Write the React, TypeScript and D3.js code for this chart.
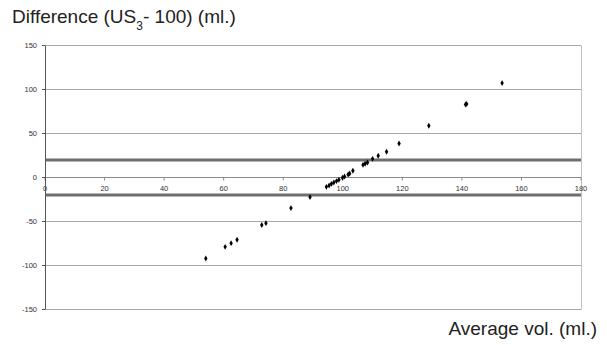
import React from "react";
import * as d3 from "d3";

const avgVol = [54.0, 60.5, 62.5, 64.5, 72.8, 74.2, 82.6, 89.0, 94.5, 95.4, 96.2, 97.0, 97.9, 98.7, 99.9, 100.6, 101.8, 102.3, 103.4, 106.8, 107.5, 108.3, 110.0, 111.9, 114.7, 118.9, 128.9, 141.2, 141.6, 153.5];
const diff = [-92, -78.8, -74.6, -70.8, -54, -51.9, -34.8, -22.3, -10.6, -9.1, -7.2, -5.7, -4.1, -2.6, -0.3, 1.1, 3.4, 4.5, 7.6, 14.4, 15.6, 17, 21.2, 24.7, 29.2, 38.6, 58.8, 83.0, 83.6, 107.3];
const xTicks = [0, 20, 40, 60, 80, 100, 120, 140, 160, 180];
const yTicks = [150, 100, 50, 0, -50, -100, -150];
const limits = [20, -20];

export default function App() {
  const W = 607, H = 345;
  const x = d3.scaleLinear().domain([0, 180]).range([45, 581]);
  const y = d3.scaleLinear().domain([-150, 150]).range([309.5, 45.5]);
  const font = "Arial, 'Liberation Sans', sans-serif";
  const diamond = d3.symbol().type(d3.symbolDiamond).size(10)();
  return (
    <svg width={W} height={H} style={{ position: "absolute", left: 0, top: 0, background: "#fff" }}>
      {/* gridlines */}
      {yTicks.filter(t => t !== 0).map(t => (
        <line key={"g" + t} x1={x(0)} x2={x(180)} y1={y(t)} y2={y(t)} stroke="#a8a8a8" strokeWidth={1} />
      ))}
      {/* right border */}
      <line x1={x(180) + 0.5} x2={x(180) + 0.5} y1={y(150)} y2={y(-150)} stroke="#c0c0c0" strokeWidth={1} />
      {/* limit lines */}
      {limits.map(l => (
        <line key={"l" + l} x1={x(0)} x2={x(180)} y1={y(l)} y2={y(l)} stroke="#6e6e6e" strokeWidth={3} />
      ))}
      {/* x axis at 0 */}
      <line x1={x(0)} x2={x(180)} y1={y(0)} y2={y(0)} stroke="#8a8a8a" strokeWidth={1} />
      {xTicks.map(t => (
        <g key={"xt" + t}>
          <line x1={x(t)} x2={x(t)} y1={y(0)} y2={y(0) + 3} stroke="#8a8a8a" />
          <text x={x(t)} y={y(0) + 13} fontSize={7.5} fontFamily={font} fill="#333" textAnchor="middle">{t}</text>
        </g>
      ))}
      {/* y axis */}
      <line x1={x(0) + 0.5} x2={x(0) + 0.5} y1={y(150)} y2={y(-150)} stroke="#555" strokeWidth={1} />
      {yTicks.map(t => (
        <g key={"yt" + t}>
          <line x1={x(0) - 3} x2={x(0)} y1={y(t)} y2={y(t)} stroke="#555" />
          <text x={x(0) - 8} y={y(t) + 2.5} fontSize={7.5} fontFamily={font} fill="#333" textAnchor="end">{t}</text>
        </g>
      ))}
      {/* points */}
      {avgVol.map((v, i) => (
        <path key={"p" + i} d={diamond as string} transform={`translate(${x(v)},${y(diff[i])})`} fill="#000" />
      ))}
      {/* title */}
      <text x={12} y={23} fontSize={19} fontFamily={font} fill="#222">
        Difference (US<tspan fontSize={12} dy={7}>3</tspan><tspan dy={-7}>- 100) (ml.)</tspan>
      </text>
      <text x={597} y={335} fontSize={19} fontFamily={font} fill="#222" textAnchor="end">Average vol. (ml.)</text>
    </svg>
  );
}
